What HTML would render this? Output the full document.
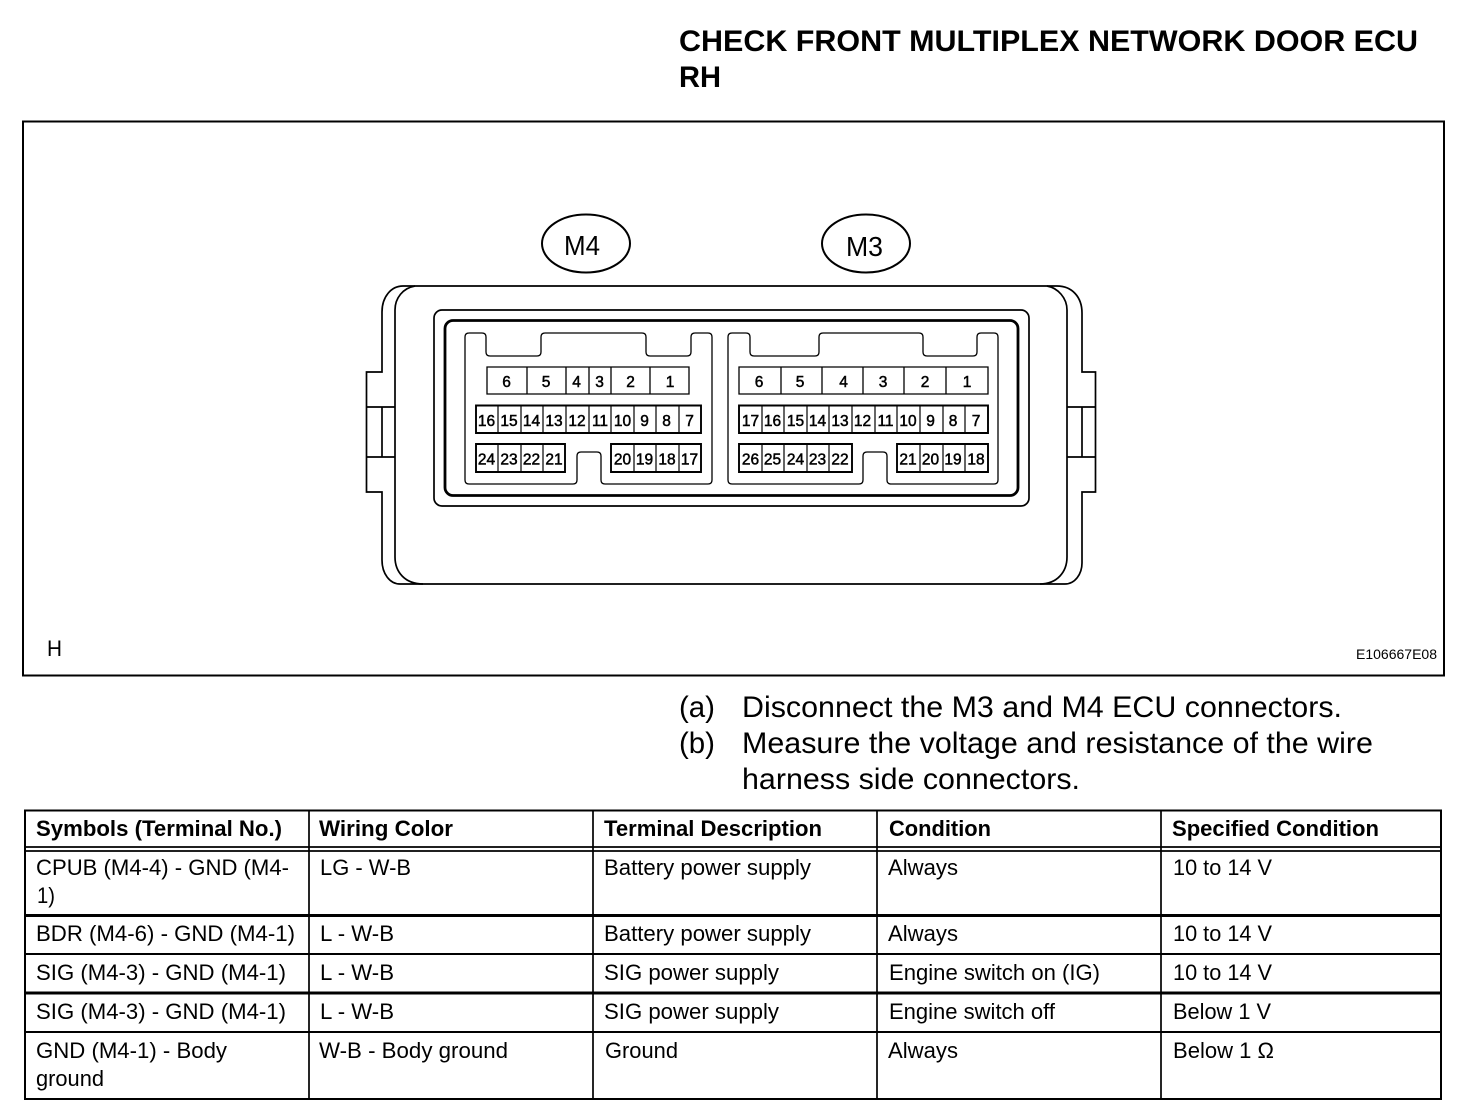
<!DOCTYPE html>
<html lang="en">
<head>
<meta charset="utf-8">
<title>Check Front Multiplex Network Door ECU RH</title>
<style>
html,body{margin:0;padding:0;background:#fff;width:1472px;height:1116px;overflow:hidden}
svg{display:block}
text{font-family:"Liberation Sans",Arial,sans-serif;fill:#000}
.b{font-weight:bold}
.t{font-size:22px}
.h{font-size:22px;font-weight:bold}
.n{font-size:15.5px;text-anchor:middle;stroke:#000;stroke-width:.5}
.l{fill:none;stroke:#000}
</style>
</head>
<body>
<svg width="1472" height="1116" viewBox="0 0 1472 1116" xmlns="http://www.w3.org/2000/svg">
<rect width="1472" height="1116" fill="#fff"/>

<!-- Title -->
<text class="b" x="679" y="51" font-size="30" textLength="739" lengthAdjust="spacingAndGlyphs">CHECK FRONT MULTIPLEX NETWORK DOOR ECU</text>
<text class="b" x="679" y="87" font-size="30" textLength="42" lengthAdjust="spacingAndGlyphs">RH</text>

<!-- Frame -->
<rect x="23" y="121.5" width="1421" height="554" class="l" stroke-width="2"/>

<!-- Ellipses -->
<ellipse cx="586" cy="243.5" rx="44" ry="29" class="l" stroke-width="2"/>
<ellipse cx="866" cy="243.5" rx="44" ry="29" class="l" stroke-width="2"/>
<text x="564" y="255" font-size="27.5" textLength="36" lengthAdjust="spacingAndGlyphs">M4</text>
<text x="846" y="256" font-size="27.5" textLength="37" lengthAdjust="spacingAndGlyphs">M3</text>

<!-- Housing -->
<g stroke-width="1.7" fill="none" stroke="#000">
<path d="M382 372V312C382 297 391 286 403 286H1057C1072 286 1082 297 1082 313V372H1095.500V492H1082V563C1082 574 1075 584 1065 584H400C390 584 382 574 382 560V492H366.500V372H382Z"/>
<path d="M415 286C403 288 395 298 395 310V557C395 572 405 584 423 584"/>
<path d="M1047 286C1058 288 1067 298 1067 310V557C1067 572 1057 584 1040 584"/>
<path d="M366.500 407H395M366.500 457H395M382 407V457"/>
<path d="M1067 407H1095.500M1067 457H1095.500M1082 407V457"/>
<rect x="434" y="310" width="595" height="196" rx="8"/>
</g>
<rect x="445" y="320.500" width="573" height="175" rx="8" class="l" stroke-width="2.800"/>

<!-- Cavities -->
<path class="l" stroke-width="1.300" d="M468.700 333H482q4 0 4 4V352q0 4 4 4H537q4 0 4-4V337q0-4 4-4H642q4 0 4 4V352q0 4 4 4H687q4 0 4-4V337q0-4 4-4H708q4 0 4 4V480q0 4-4 4H605q-4 0-4-4V456q0-4-4-4H581q-4 0-4 4V480q0 4-4 4H469q-4 0-4-4V337q0-4 4-4Z"/>
<path class="l" stroke-width="1.300" d="M732 333H746q4 0 4 4V352q0 4 4 4H815q4 0 4-4V337q0-4 4-4H919q4 0 4 4V352q0 4 4 4H973q4 0 4-4V337q0-4 4-4H994q4 0 4 4V480q0 4-4 4H891q-4 0-4-4V456q0-4-4-4H867q-4 0-4 4V480q0 4-4 4H732q-4 0-4-4V337q0-4 4-4Z"/>

<!-- M4 pins -->
<path class="l" stroke-width="1.300" d="M487 367H689V394H487ZM527 367V394M566 367V394M589 367V394M611 367V394M650 367V394"/>
<path class="l" stroke-width="1.900" d="M476 405.500H701V433H476Z"/>
<path class="l" stroke-width="1.200" d="M498 405V433M521 405V433M543 405V433M566 405V433M589 405V433M611 405V433M634 405V433M656 405V433M679 405V433"/>
<path class="l" stroke-width="1.900" d="M476 444H565V472H476ZM611 444H701V472H611Z"/>
<path class="l" stroke-width="1.200" d="M498 444V472M521 444V472M543 444V472M634 444V472M656 444V472M679 444V472"/>

<!-- M3 pins -->
<path class="l" stroke-width="1.300" d="M739 367H988V394H739ZM781 367V394M822 367V394M863 367V394M904 367V394M946 367V394"/>
<path class="l" stroke-width="1.900" d="M739 405.500H988V433H739Z"/>
<path class="l" stroke-width="1.200" d="M762 405V433M784 405V433M807 405V433M829 405V433M852 405V433M875 405V433M897 405V433M920 405V433M943 405V433M965 405V433"/>
<path class="l" stroke-width="1.900" d="M739 444H852V472H739ZM897 444H988V472H897Z"/>
<path class="l" stroke-width="1.200" d="M762 444V472M784 444V472M807 444V472M829 444V472M920 444V472M943 444V472M965 444V472"/>

<!-- M4 labels -->
<g>
<text class="n" x="506.500" y="387">6</text><text class="n" x="546" y="387">5</text><text class="n" x="576.500" y="387">4</text><text class="n" x="599.500" y="387">3</text><text class="n" x="630.500" y="387">2</text><text class="n" x="670" y="387">1</text>
<text class="n" x="486.500" y="426">16</text><text class="n" x="509" y="426">15</text><text class="n" x="531.500" y="426">14</text><text class="n" x="554" y="426">13</text><text class="n" x="577" y="426">12</text><text class="n" x="600" y="426">11</text><text class="n" x="622.500" y="426">10</text><text class="n" x="644.500" y="426">9</text><text class="n" x="666.500" y="426">8</text><text class="n" x="689.500" y="426">7</text>
<text class="n" x="486.500" y="464.500">24</text><text class="n" x="509" y="464.500">23</text><text class="n" x="531.500" y="464.500">22</text><text class="n" x="554" y="464.500">21</text>
<text class="n" x="622.500" y="464.500">20</text><text class="n" x="644.500" y="464.500">19</text><text class="n" x="667" y="464.500">18</text><text class="n" x="689.500" y="464.500">17</text>
</g>

<!-- M3 labels -->
<g>
<text class="n" x="759" y="387">6</text><text class="n" x="800" y="387">5</text><text class="n" x="843.500" y="387">4</text><text class="n" x="883" y="387">3</text><text class="n" x="925" y="387">2</text><text class="n" x="967" y="387">1</text>
<text class="n" x="750.500" y="426">17</text><text class="n" x="772.500" y="426">16</text><text class="n" x="795.500" y="426">15</text><text class="n" x="817.500" y="426">14</text><text class="n" x="840" y="426">13</text><text class="n" x="862.500" y="426">12</text><text class="n" x="885.500" y="426">11</text><text class="n" x="908" y="426">10</text><text class="n" x="930.500" y="426">9</text><text class="n" x="953" y="426">8</text><text class="n" x="976" y="426">7</text>
<text class="n" x="750.500" y="464.500">26</text><text class="n" x="772.500" y="464.500">25</text><text class="n" x="795.500" y="464.500">24</text><text class="n" x="817.500" y="464.500">23</text><text class="n" x="840" y="464.500">22</text>
<text class="n" x="908" y="464.500">21</text><text class="n" x="930.500" y="464.500">20</text><text class="n" x="953" y="464.500">19</text><text class="n" x="976" y="464.500">18</text>
</g>

<text x="47" y="656" font-size="22" textLength="15" lengthAdjust="spacingAndGlyphs">H</text>
<text x="1356" y="659" font-size="13.500" textLength="81" lengthAdjust="spacingAndGlyphs">E106667E08</text>

<!-- Steps -->
<text x="679" y="717" font-size="30" textLength="36" lengthAdjust="spacingAndGlyphs">(a)</text>
<text x="742" y="717" font-size="30" textLength="600" lengthAdjust="spacingAndGlyphs">Disconnect the M3 and M4 ECU connectors.</text>
<text x="679" y="753" font-size="30" textLength="36" lengthAdjust="spacingAndGlyphs">(b)</text>
<text x="742" y="753" font-size="30" textLength="631" lengthAdjust="spacingAndGlyphs">Measure the voltage and resistance of the wire</text>
<text x="742" y="789" font-size="30" textLength="338" lengthAdjust="spacingAndGlyphs">harness side connectors.</text>

<!-- Table grid -->
<rect x="25" y="810.500" width="1416" height="288.500" class="l" stroke-width="2"/>
<path class="l" stroke-width="1.700" d="M309 810V1099M593 810V1099M877 810V1099M1161 810V1099"/>
<path class="l" stroke-width="1.700" d="M25 847H1441M25 851H1441"/>
<path class="l" stroke-width="3" d="M25 915.500H1441M25 993H1441"/>
<path class="l" stroke-width="2" d="M25 954H1441M25 1032H1441"/>

<!-- Table header -->
<text class="h" x="36" y="836" textLength="246" lengthAdjust="spacingAndGlyphs">Symbols (Terminal No.)</text>
<text class="h" x="319" y="836" textLength="134" lengthAdjust="spacingAndGlyphs">Wiring Color</text>
<text class="h" x="604" y="836" textLength="218" lengthAdjust="spacingAndGlyphs">Terminal Description</text>
<text class="h" x="889" y="836" textLength="102" lengthAdjust="spacingAndGlyphs">Condition</text>
<text class="h" x="1172" y="836" textLength="207" lengthAdjust="spacingAndGlyphs">Specified Condition</text>

<!-- Row 1 -->
<text class="t" x="36" y="875" textLength="253" lengthAdjust="spacingAndGlyphs">CPUB (M4-4) - GND (M4-</text>
<text class="t" x="37" y="903" textLength="18" lengthAdjust="spacingAndGlyphs">1)</text>
<text class="t" x="320" y="875" textLength="91" lengthAdjust="spacingAndGlyphs">LG - W-B</text>
<text class="t" x="604" y="875" textLength="207" lengthAdjust="spacingAndGlyphs">Battery power supply</text>
<text class="t" x="888" y="875" textLength="70" lengthAdjust="spacingAndGlyphs">Always</text>
<text class="t" x="1173" y="875" textLength="99" lengthAdjust="spacingAndGlyphs">10 to 14 V</text>

<!-- Row 2 -->
<text class="t" x="36" y="941" textLength="259" lengthAdjust="spacingAndGlyphs">BDR (M4-6) - GND (M4-1)</text>
<text class="t" x="320" y="941" textLength="74" lengthAdjust="spacingAndGlyphs">L - W-B</text>
<text class="t" x="604" y="941" textLength="207" lengthAdjust="spacingAndGlyphs">Battery power supply</text>
<text class="t" x="888" y="941" textLength="70" lengthAdjust="spacingAndGlyphs">Always</text>
<text class="t" x="1173" y="941" textLength="99" lengthAdjust="spacingAndGlyphs">10 to 14 V</text>

<!-- Row 3 -->
<text class="t" x="36" y="980" textLength="250" lengthAdjust="spacingAndGlyphs">SIG (M4-3) - GND (M4-1)</text>
<text class="t" x="320" y="980" textLength="74" lengthAdjust="spacingAndGlyphs">L - W-B</text>
<text class="t" x="604" y="980" textLength="175" lengthAdjust="spacingAndGlyphs">SIG power supply</text>
<text class="t" x="889" y="980" textLength="211" lengthAdjust="spacingAndGlyphs">Engine switch on (IG)</text>
<text class="t" x="1173" y="980" textLength="99" lengthAdjust="spacingAndGlyphs">10 to 14 V</text>

<!-- Row 4 -->
<text class="t" x="36" y="1019" textLength="250" lengthAdjust="spacingAndGlyphs">SIG (M4-3) - GND (M4-1)</text>
<text class="t" x="320" y="1019" textLength="74" lengthAdjust="spacingAndGlyphs">L - W-B</text>
<text class="t" x="604" y="1019" textLength="175" lengthAdjust="spacingAndGlyphs">SIG power supply</text>
<text class="t" x="889" y="1019" textLength="166" lengthAdjust="spacingAndGlyphs">Engine switch off</text>
<text class="t" x="1173" y="1019" textLength="98" lengthAdjust="spacingAndGlyphs">Below 1 V</text>

<!-- Row 5 -->
<text class="t" x="36" y="1058" textLength="191" lengthAdjust="spacingAndGlyphs">GND (M4-1) - Body</text>
<text class="t" x="36" y="1086" textLength="68" lengthAdjust="spacingAndGlyphs">ground</text>
<text class="t" x="319" y="1058" textLength="189" lengthAdjust="spacingAndGlyphs">W-B - Body ground</text>
<text class="t" x="605" y="1058" textLength="73" lengthAdjust="spacingAndGlyphs">Ground</text>
<text class="t" x="888" y="1058" textLength="70" lengthAdjust="spacingAndGlyphs">Always</text>
<text class="t" x="1173" y="1058" textLength="101" lengthAdjust="spacingAndGlyphs">Below 1 Ω</text>
</svg>
</body>
</html>
